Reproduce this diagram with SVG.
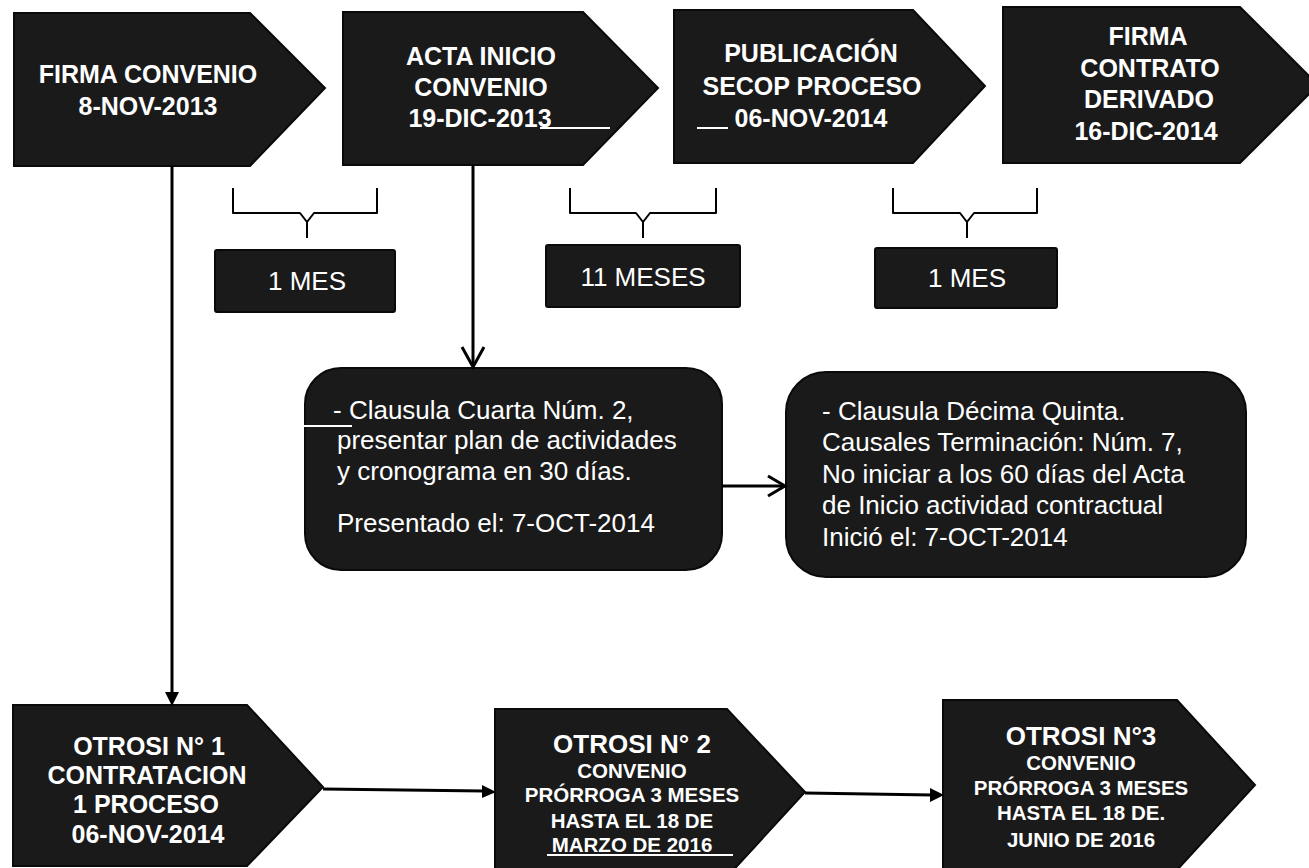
<svg xmlns="http://www.w3.org/2000/svg" width="1309" height="868" viewBox="0 0 1309 868">
<style>
.shape{fill:#1a1a1a;stroke:#0a0a0a;stroke-width:2}
.t{font-family:"Liberation Sans",Arial,sans-serif;fill:#ffffff;text-anchor:middle}
.b{font-weight:bold;font-size:25px}
.s{font-weight:bold;font-size:20.5px}
.r{font-size:26px}
.l{font-family:"Liberation Sans",Arial,sans-serif;fill:#ffffff;font-size:26px}
.ul{stroke:#ffffff;stroke-width:2;fill:none}
.conn{stroke:#000;stroke-width:3;fill:none}
.br{stroke:#000;stroke-width:2;fill:none;stroke-linejoin:round}
.ah{fill:#000}
</style>
<rect width="1309" height="868" fill="#ffffff"/>

<g id="firma-convenio">
<polygon class="shape" points="14,13 250,13 325,88 250,166 14,166"/>
<text class="t b" x="148" y="83">FIRMA CONVENIO</text>
<text class="t b" x="148" y="115">8-NOV-2013</text>
</g>

<g id="acta-inicio">
<polygon class="shape" points="343,12 583,12 658,88 583,165 343,165"/>
<text class="t b" x="481" y="65">ACTA INICIO</text>
<text class="t b" x="481" y="96">CONVENIO</text>
<text class="t b" x="480" y="127">19-DIC-2013</text>
<line class="ul" x1="540" y1="128" x2="610" y2="128"/>
</g>

<g id="publicacion-secop">
<polygon class="shape" points="674,10 913,10 985,86 913,163 674,163"/>
<text class="t b" x="811" y="62">PUBLICACIÓN</text>
<text class="t b" x="812" y="95">SECOP PROCESO</text>
<text class="t b" x="811" y="127">06-NOV-2014</text>
<line class="ul" x1="697" y1="128" x2="728" y2="128"/>
</g>

<g id="firma-contrato">
<polygon class="shape" points="1003,7 1240,7 1318,85 1240,163 1003,163"/>
<text class="t b" x="1148" y="45">FIRMA</text>
<text class="t b" x="1150" y="77">CONTRATO</text>
<text class="t b" x="1149" y="108">DERIVADO</text>
<text class="t b" x="1146" y="140">16-DIC-2014</text>
</g>

<g id="plazo-1">
<path class="br" d="M233,188 L233,213 L300,213 L307,222 L314,213 L377,213 L377,188 M307,222 L307,238"/>
<rect class="shape" x="215" y="250" width="180" height="62" rx="2"/>
<text class="t r" x="307" y="290">1 MES</text>
</g>

<g id="plazo-2">
<path class="br" d="M570,188 L570,213 L636,213 L643,222 L650,213 L716,213 L716,188 M643,222 L643,238"/>
<rect class="shape" x="546" y="245" width="194" height="62" rx="2"/>
<text class="t r" x="643" y="286">11 MESES</text>
</g>

<g id="plazo-3">
<path class="br" d="M893,188 L893,213 L960,213 L967,222 L974,213 L1037,213 L1037,188 M967,222 L967,238"/>
<rect class="shape" x="875" y="248" width="182" height="60" rx="2"/>
<text class="t r" x="967" y="287">1 MES</text>
</g>

<g id="clausula-cuarta">
<rect class="shape" x="305" y="368" width="417" height="202" rx="36"/>
<line class="ul" x1="304" y1="426" x2="352" y2="426"/>
<text class="l" x="333" y="419">- Clausula Cuarta Núm. 2,</text>
<text class="l" x="337" y="449">presentar plan de actividades</text>
<text class="l" x="337" y="480">y cronograma en 30 días.</text>
<text class="l" x="337" y="532">Presentado el: 7-OCT-2014</text>
</g>

<g id="clausula-decima">
<rect class="shape" x="786" y="372" width="460" height="205" rx="40"/>
<text class="l" x="822" y="420">- Clausula Décima Quinta.</text>
<text class="l" x="822" y="451">Causales Terminación: Núm. 7,</text>
<text class="l" x="822" y="483">No iniciar a los 60 días del Acta</text>
<text class="l" x="822" y="514">de Inicio actividad contractual</text>
<text class="l" x="822" y="546">Inició el: 7-OCT-2014</text>
</g>

<g id="otrosi-1">
<polygon class="shape" points="13,705 247,705 323,787 247,866 13,866"/>
<text class="t b" x="149" y="755">OTROSI N° 1</text>
<text class="t b" x="147" y="784">CONTRATACION</text>
<text class="t b" x="146" y="813">1 PROCESO</text>
<text class="t b" x="148" y="843">06-NOV-2014</text>
</g>

<g id="otrosi-2">
<polygon class="shape" points="495,709 727,709 805,792 727,877 495,877"/>
<text class="t" x="632" y="753" style="font-weight:bold;font-size:26px">OTROSI N° 2</text>
<text class="t s" x="632" y="778">CONVENIO</text>
<text class="t s" x="632" y="802">PRÓRROGA 3 MESES</text>
<text class="t s" x="632" y="828">HASTA EL 18 DE</text>
<text class="t s" x="632" y="852">MARZO DE 2016</text>
<line class="ul" x1="547" y1="855" x2="733" y2="855"/>
</g>

<g id="otrosi-3">
<polygon class="shape" points="943,700 1177,700 1255,785 1177,870 943,870"/>
<text class="t" x="1081" y="745" style="font-weight:bold;font-size:26px">OTROSI N°3</text>
<text class="t s" x="1081" y="770">CONVENIO</text>
<text class="t s" x="1081" y="795">PRÓRROGA 3 MESES</text>
<text class="t s" x="1081" y="820">HASTA EL 18 DE.</text>
<text class="t s" x="1081" y="847">JUNIO DE 2016</text>
</g>

<g id="connectors">
<line class="conn" x1="172" y1="166" x2="172" y2="694"/>
<polygon class="ah" points="172,706 165,692 179,692"/>
<line class="conn" x1="473" y1="165" x2="473" y2="366"/>
<polyline class="conn" points="462,347 473,367 484,347"/>
<line class="conn" x1="722" y1="486" x2="784" y2="486"/>
<polyline class="conn" points="768,476 785,486 768,496"/>
<line class="conn" x1="323" y1="789" x2="484" y2="791"/>
<polygon class="ah" points="496,792 482,785 482,798"/>
<line class="conn" x1="805" y1="793" x2="932" y2="795"/>
<polygon class="ah" points="944,795 930,788 930,802"/>
</g>
</svg>
